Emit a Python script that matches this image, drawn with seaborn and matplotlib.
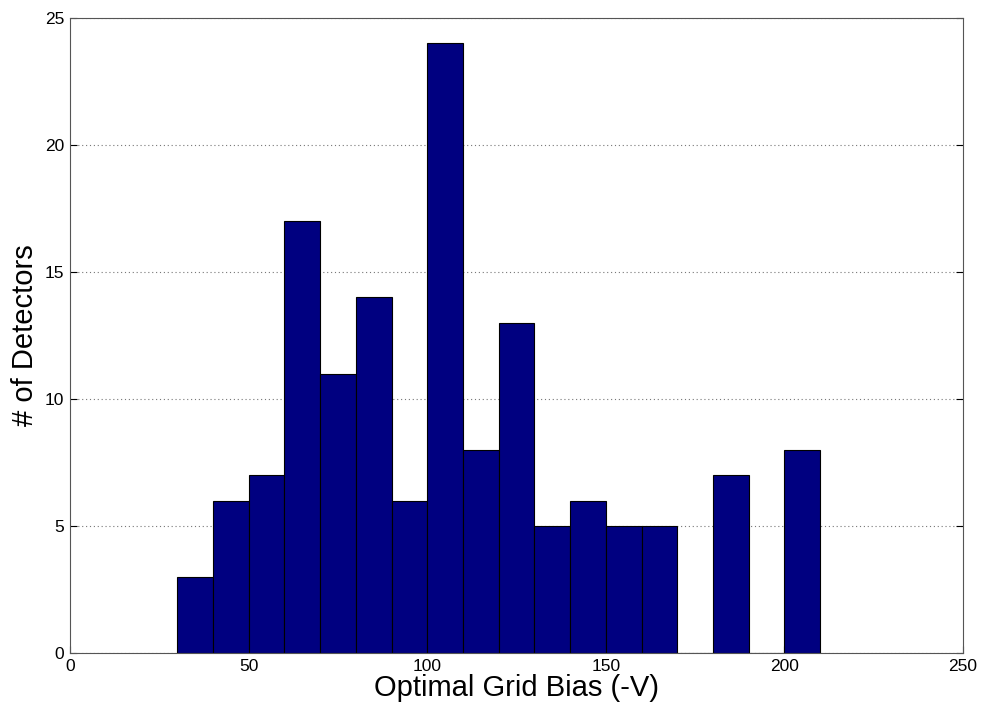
import numpy as np
import matplotlib
matplotlib.use('Agg')
import matplotlib.pyplot as plt
import seaborn as sns

# Histogram bins (width 10 V) and counts
bin_edges = [30, 40, 50, 60, 70, 80, 90, 100, 110, 120, 130, 140, 150, 160, 170, 180, 190, 200, 210]
counts = [3, 6, 7, 17, 11, 14, 6, 24, 8, 13, 5, 6, 5, 5, 0, 7, 0, 8]
x_ticks = [0, 50, 100, 150, 200, 250]
y_ticks = [0, 5, 10, 15, 20, 25]

sns.set_style('white')
plt.rcParams['font.family'] = ['Liberation Sans', 'DejaVu Sans']
plt.rcParams['text.color'] = 'black'
plt.rcParams['axes.labelcolor'] = 'black'

centers = [(a + b) / 2 for a, b in zip(bin_edges[:-1], bin_edges[1:])]

fig = plt.figure(figsize=(9.81, 7.08), dpi=100)
ax = fig.add_axes([0.0714, 0.0777, 0.9103, 0.8969])

sns.histplot(x=centers, weights=counts, bins=bin_edges, ax=ax,
             color='#000080', alpha=1.0, edgecolor='black', linewidth=0.8)

ax.set_xlim(0, 250)
ax.set_ylim(0, 25)
ax.set_xticks(x_ticks)
ax.set_yticks(y_ticks)
ax.tick_params(direction='in', length=5, width=0.8, labelsize=12.5, colors='black',
               top=False, right=True, bottom=True, left=True)
ax.tick_params(axis='y', pad=4)
ax.tick_params(axis='x', pad=4)
ax.yaxis.grid(True, linestyle=(0, (1, 2.5)), color='#777777', linewidth=0.8)
ax.set_axisbelow(True)
for s in ax.spines.values():
    s.set_color('#555555')
    s.set_linewidth(0.8)

ax.set_xlabel('Optimal Grid Bias (-V)', fontsize=21, labelpad=0, color='black')
ax.set_ylabel('# of Detectors', fontsize=21, labelpad=4, color='black')

fig.savefig('out.png', dpi=100)
